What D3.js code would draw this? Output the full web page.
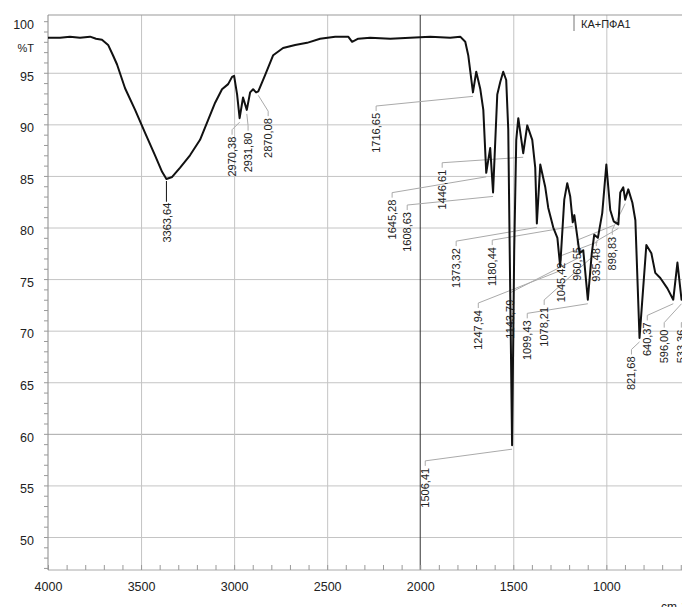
<!DOCTYPE html>
<html>
<head>
    <meta charset="utf-8">
    <style>
        body { margin: 0; background: #fff; }
        svg { display: block; font-family: "Liberation Sans", Arial, sans-serif; }
        .grid line { stroke: #c4c4c4; stroke-width: 1px; }
        .grid .domain { display: none; }
        .axis .domain { display: none; }
        .axis text { font-size: 12.5px; fill: #222; }
        .minor line { stroke: #999; }
        .minor .domain { display: none; }
        .peak-label { font-size: 11px; fill: #222; }
    </style>
</head>
<body>
<svg width="682" height="607"></svg>

<script src="https://d3js.org/d3.v7.min.js"></script>
<script>
    // IR spectrum (wavenumber, %T)
    const wavenumbers = [4000, 3935, 3882, 3828, 3774, 3742, 3710, 3677, 3651, 3629, 3586, 3532, 3479, 3425, 3387, 3363.64, 3333, 3290, 3237, 3183, 3140, 3102, 3065, 3032, 3011, 3000, 2984, 2970.38, 2952, 2931.80, 2914, 2898, 2882, 2870.08, 2833, 2790, 2737, 2672, 2608, 2538, 2457, 2387, 2366, 2333, 2269, 2161, 2054, 1946, 1839, 1785, 1758, 1742, 1716.65, 1699, 1677, 1661, 1645.28, 1624, 1608.63, 1586, 1570, 1554, 1538, 1527, 1506.41, 1495, 1484, 1473, 1446.61, 1425, 1398, 1382, 1373.32, 1355, 1328, 1312, 1285, 1263, 1247.94, 1226, 1210, 1194, 1180.44, 1172, 1143.79, 1124, 1099.43, 1078.21, 1065, 1045.42, 1022, 1000, 979, 960.55, 935.48, 925, 909, 898.83, 882, 860, 844, 821.68, 785, 758, 737, 710, 672, 640.37, 618, 596.00, 560, 533.36, 495]
    const transmittance = [98.4, 98.4, 98.5, 98.4, 98.5, 98.3, 98.2, 97.7, 96.7, 95.8, 93.5, 91.4, 89.2, 87.0, 85.4, 84.7, 84.9, 85.8, 87.0, 88.5, 90.4, 92.1, 93.4, 93.9, 94.6, 94.7, 92.9, 90.6, 92.6, 91.4, 93.1, 93.4, 93.1, 93.2, 94.8, 96.7, 97.4, 97.7, 97.9, 98.3, 98.5, 98.5, 98.0, 98.3, 98.4, 98.3, 98.4, 98.5, 98.4, 98.5, 98.0, 96.7, 93.1, 95.1, 93.4, 91.4, 85.3, 87.7, 83.4, 92.9, 94.1, 95.1, 94.3, 89.5, 58.9, 77.8, 88.5, 90.6, 87.2, 89.9, 88.5, 85.8, 80.4, 86.1, 83.9, 81.9, 80.0, 79.0, 76.2, 82.7, 84.3, 83.0, 80.5, 81.2, 77.5, 77.8, 73.0, 77.5, 79.3, 79.0, 81.4, 86.1, 81.7, 80.6, 80.3, 83.4, 83.9, 82.7, 83.7, 82.4, 80.7, 69.3, 78.3, 77.5, 75.6, 75.1, 74.1, 73.0, 76.6, 73.0, 74.0, 72.0, 74.0]

    // peak annotations: peak wavenumber, text, and where the label top sits (data units)
    const peakWn = [3363.64, 2970.38, 2931.80, 2870.08, 1716.65, 1645.28, 1608.63, 1446.61, 1373.32, 1180.44, 1247.94, 1143.79, 1099.43, 1078.21, 1045.42, 960.55, 935.48, 898.83, 821.68, 640.37, 596.00, 533.36, 1506.41]
    const peakText = ["3363,64", "2970,38", "2931,80", "2870,08", "1716,65", "1645,28", "1608,63", "1446,61", "1373,32", "1180,44", "1247,94", "1143,79", "1099,43", "1078,21", "1045,42", "960,55", "935,48", "898,83", "821,68", "640,37", "596,00", "533,36", "1506,41"]
    const labelWn = [3360, 3011, 2925, 2817, 2237, 2151, 2070, 1882, 1807, 1613, 1688, 1516, 1425, 1334, 1242, 1156, 1054, 968, 865, 780, 689, 597, 1973]
    const labelT = [82.4, 88.8, 89.2, 90.6, 91.1, 82.7, 81.5, 85.6, 78.0, 78.1, 72.0, 73.0, 71.0, 72.3, 76.6, 78.1, 78.0, 79.1, 67.5, 70.8, 70.1, 70.1, 56.7]

    const yTicks = [100, 95, 90, 85, 80, 75, 70, 65, 60, 55, 50]
    const xTicks = [4000, 3500, 3000, 2500, 2000, 1500, 1000]
    const seriesName = "КА+ПФА1"

    let margin = { top: 15, left: 48, bottom: 570 }
    let plotRight = 718

    let svg = d3.select("svg")

    let x = d3.scaleLinear()
        .domain([4000, 400])
        .range([margin.left, plotRight])

    let y = d3.scaleLinear()
        .domain([46.8, 100.6])
        .range([margin.bottom, margin.top])

    let plotH = margin.bottom - margin.top
    let plotW = plotRight - margin.left

    // horizontal grid
    let yGrid = svg.append("g")
        .attr("class", "grid")
        .attr("transform", `translate(${margin.left},0)`)
        .call(d3.axisRight(y).tickValues(yTicks.filter(d => d < 100)).tickSize(plotW).tickFormat(""))
    yGrid.selectAll(".tick line").filter(d => d == 60).style("stroke", "#a8a8a8")

    // vertical grid
    let xGrid = svg.append("g")
        .attr("class", "grid")
        .attr("transform", `translate(0,${margin.bottom})`)
        .call(d3.axisTop(x).tickValues(xTicks.filter(d => d != 4000 && d != 2000)).tickSize(plotH).tickFormat(""))

    // top border
    svg.append("line")
        .attr("x1", margin.left).attr("x2", plotRight)
        .attr("y1", margin.top).attr("y2", margin.top)
        .style("stroke", "#999")

    // 2000 marker line (dark)
    svg.append("line")
        .attr("x1", x(2000)).attr("x2", x(2000))
        .attr("y1", margin.top).attr("y2", margin.bottom)
        .style("stroke", "#333")

    // axes lines
    svg.append("line")
        .attr("x1", margin.left).attr("x2", margin.left)
        .attr("y1", margin.top).attr("y2", margin.bottom)
        .style("stroke", "#888")
    svg.append("line")
        .attr("x1", margin.left).attr("x2", plotRight)
        .attr("y1", margin.bottom).attr("y2", margin.bottom)
        .style("stroke", "#aaa")

    // minor ticks
    svg.append("g")
        .attr("class", "minor")
        .attr("transform", `translate(0,${margin.bottom})`)
        .call(d3.axisBottom(x).tickValues(d3.range(4000, 400, -100)).tickSize(-5).tickFormat(""))
    svg.append("g")
        .attr("class", "minor")
        .attr("transform", `translate(${margin.left},0)`)
        .call(d3.axisLeft(y).tickValues(d3.range(47, 101, 1)).tickSize(4).tickFormat(""))

    // tick labels
    let yAxis = svg.append("g")
        .attr("class", "axis")
        .attr("transform", `translate(${margin.left},0)`)
        .call(d3.axisLeft(y).tickValues(yTicks).tickSize(0).tickPadding(14))
    yAxis.selectAll("text").attr("dy", "0.58em")

    svg.append("text")
        .attr("x", 34).attr("y", 52)
        .attr("text-anchor", "end")
        .style("font-size", "11px")
        .style("fill", "#222")
        .text("%T")

    svg.append("g")
        .attr("class", "axis")
        .attr("transform", `translate(0,${margin.bottom})`)
        .call(d3.axisBottom(x).tickValues(xTicks).tickSize(0).tickPadding(12).tickFormat(d3.format("d")))

    svg.append("text")
        .attr("x", 661).attr("y", 611)
        .style("font-size", "12px")
        .style("fill", "#222")
        .text("cm-1")

    // legend
    svg.append("line")
        .attr("x1", 574).attr("x2", 574)
        .attr("y1", margin.top).attr("y2", 31)
        .style("stroke", "#777")
    svg.append("text")
        .attr("x", 581).attr("y", 28)
        .style("font-size", "11px")
        .style("fill", "#222")
        .text(seriesName)

    // leader lines + labels
    let peaks = peakWn.map((wn, i) => {
        let idx = wavenumbers.indexOf(wn)
        return { wn: wn, t: transmittance[idx], text: peakText[i], lx: labelWn[i], lt: labelT[i] }
    })

    svg.append("g")
        .selectAll("path")
        .data(peaks)
        .join("path")
        .attr("d", d => {
            let lx = x(d.lx), ly = y(d.lt)
            let px = x(d.wn), py = y(d.t)
            if (d.wn == 3363.64) {
                return `M${px},${py + 2}L${px},${ly - 1}`
            }
            return `M${lx},${ly - 2}L${lx},${ly - 7}L${px},${py + 4}`
        })
        .style("fill", "none")
        .style("stroke", d => d.wn == 3363.64 ? "#111" : "#aaa")
        .style("stroke-width", "1px")

    svg.append("g")
        .selectAll("text")
        .data(peaks)
        .join("text")
        .attr("class", "peak-label")
        .attr("transform", d => `translate(${x(d.lx)},${y(d.lt)}) rotate(-90)`)
        .attr("text-anchor", "end")
        .attr("dy", "0.35em")
        .text(d => d.text)

    // spectrum
    let spectrum = wavenumbers.map((wn, i) => ({ wn: wn, t: transmittance[i] }))

    let line = d3.line()
        .x(d => x(d.wn))
        .y(d => y(d.t))

    svg.append("path")
        .datum(spectrum)
        .attr("d", line)
        .style("fill", "none")
        .style("stroke", "#111")
        .style("stroke-width", "2px")
        .style("stroke-linejoin", "round")
</script>
</body>
</html>
